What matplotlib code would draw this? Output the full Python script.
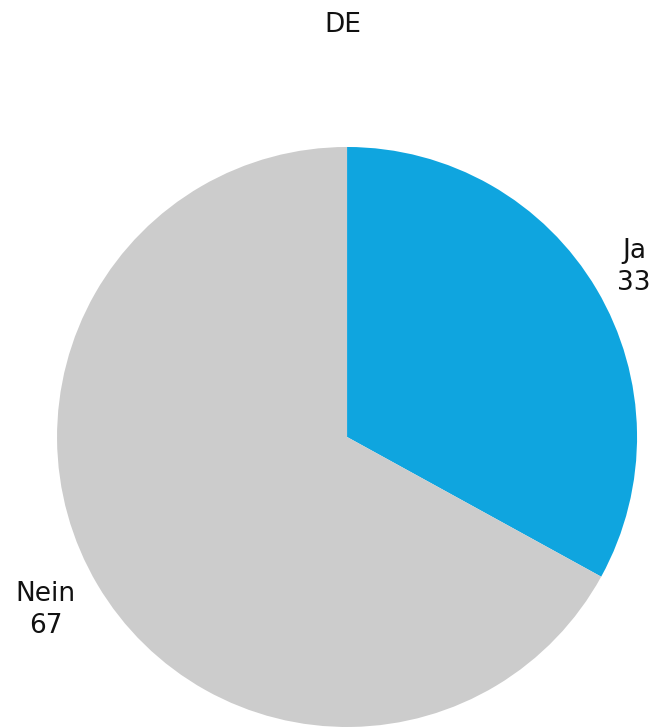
import matplotlib
matplotlib.use("Agg")
import matplotlib.pyplot as plt

plt.rcParams['font.family'] = ['DejaVu Sans']

title = "DE"
categories = ["Ja", "Nein"]
values = [33, 67]
colors = ["#0FA5DF", "#CCCCCC"]

fig = plt.figure(figsize=(6.54, 7.28), dpi=100)
ax = fig.add_axes([0.0872, 0.0014, 0.8869, 0.7967])

labels = [f"{c}\n{v}" for c, v in zip(categories, values)]
wedges, texts = ax.pie(values, labels=labels, colors=colors, startangle=90,
                       counterclock=False, labeldistance=1.15,
                       textprops=dict(fontsize=19, color="#111111"))
for t in texts:
    t.set_horizontalalignment("center")
    t.set_multialignment("center")
    t.set_linespacing(1.3)

# nudge the left-hand label a little further out
x, y = texts[1].get_position()
texts[1].set_position((x - 0.05, y - 0.01))

ax.set_xlim(-1, 1)
ax.set_ylim(-1, 1)
ax.set_aspect("equal")
ax.axis("off")

fig.text(0.524, 0.966, title, ha="center", va="center", fontsize=19, color="#111111")

fig.savefig("out.png", dpi=100)
